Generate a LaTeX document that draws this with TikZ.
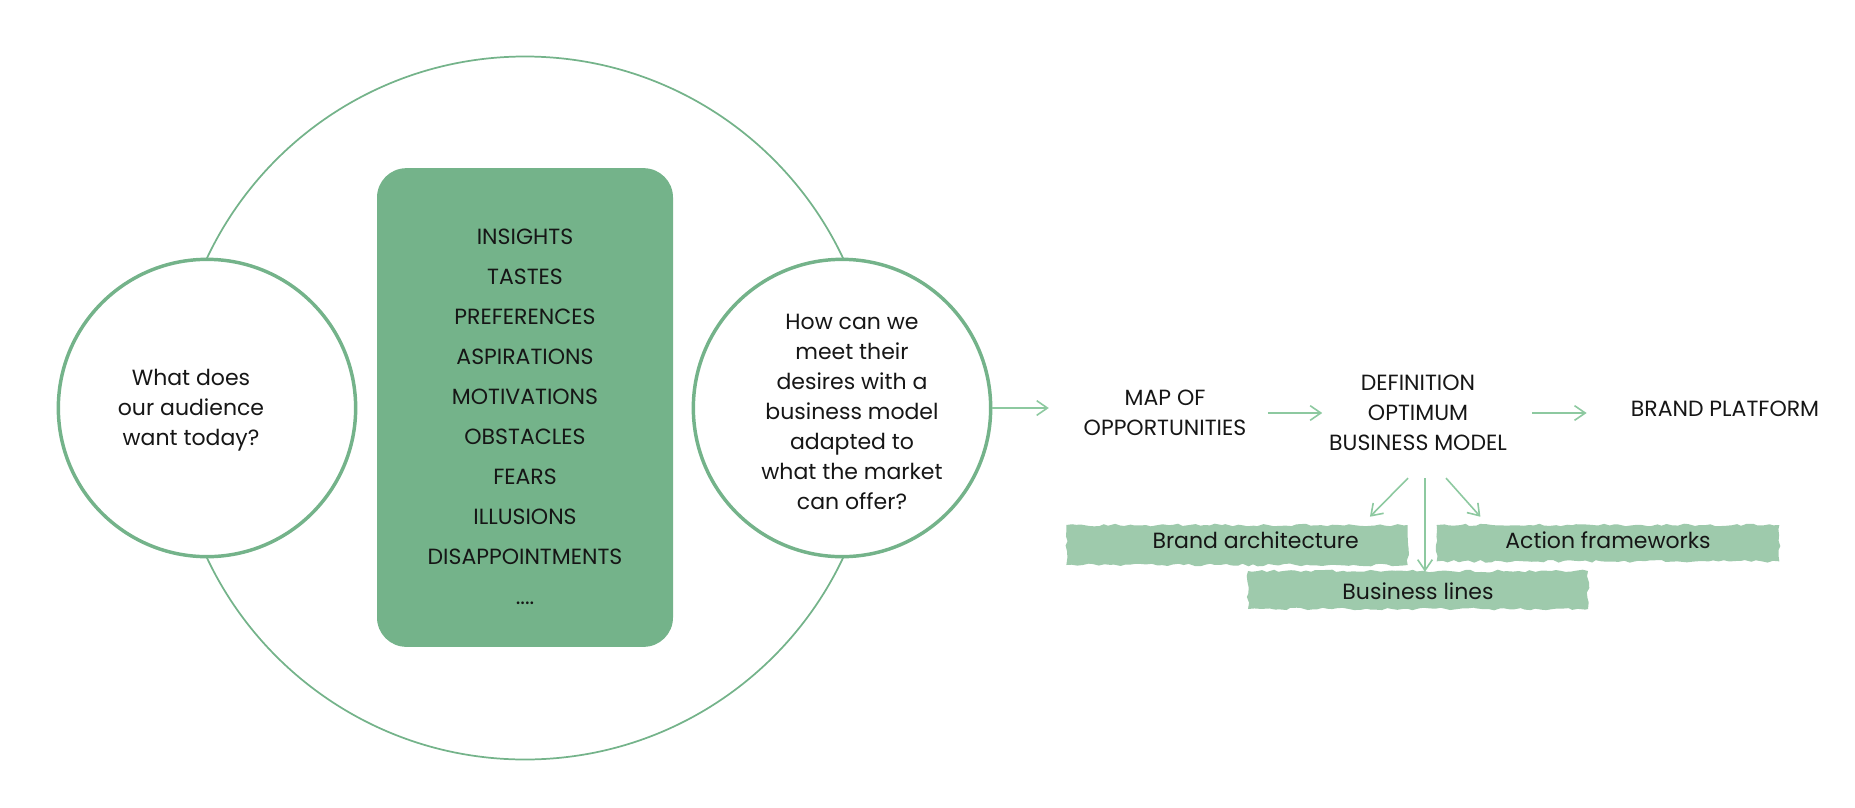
\documentclass[tikz,border=0pt]{standalone}
\usepackage{fontspec}
\setmainfont{Poppins}
\usepackage{xcolor}
\usetikzlibrary{arrows.meta,decorations.pathmorphing}
\definecolor{sage}{HTML}{74B38A}
\definecolor{sage-light}{HTML}{9ECAAC}
\definecolor{sage-arrow}{HTML}{8DC9A0}
\definecolor{ink}{HTML}{161616}
\newcommand{\textsize}{\fontsize{16.5pt}{22.5pt}\selectfont}
\newcommand{\listsize}{\fontsize{16.5pt}{30pt}\selectfont}
\tikzset{
    ring/.style = {draw=sage, line width=1.3pt},
    question-circle/.style = {draw=sage, fill=white, line width=2.6pt, circle, minimum size=223pt, inner sep=0pt},
    list-box/.style = {fill=sage, rectangle, rounded corners=22pt, minimum width=222pt, minimum height=359pt},
    step-text/.style = {inner sep=0pt, align=center, text=ink, font=\textsize},
    list-text/.style = {step-text, font=\listsize},
    flow-arrow/.style = {draw=sage-arrow, line width=1.2pt, -{Straight Barb[length=8pt,width=11pt]}},
    brush-bar/.style = {fill=sage-light, decorate, decoration={random steps, segment length=4pt, amplitude=1pt}, inner sep=0pt, anchor=base, text=ink, font=\textsize},
}

\begin{document}
\begin{tikzpicture}[x=0.75pt, y=-0.75pt]
\useasboundingbox (0,0) rectangle (1855,807);
\pgfmathsetseed{7}
\draw[ring] (525,408) circle[radius=351.5];
\node[question-circle] (audience) at (207,408) {};
\node[question-circle] (offer) at (842,408) {};
\node[list-box] (box) at (525,407.5) {};
\node[step-text] (audience-q) at ([shift={(-16,2)}]audience.center) {What does\\our audience\\want today?};
\node[step-text] (offer-q) at ([shift={(10,4)}]offer.center) {How can we\\meet their\\desires with a\\business model\\adapted to\\what the market\\can offer?};
\node[list-text] (list) at ([shift={(0,9)}]box.center) {INSIGHTS\\TASTES\\PREFERENCES\\ASPIRATIONS\\MOTIVATIONS\\OBSTACLES\\FEARS\\ILLUSIONS\\DISAPPOINTMENTS\\....};

% steps
\node[step-text] (map) at (1165,413) {MAP OF\\OPPORTUNITIES};
\node[step-text] (def) at (1418,413) {DEFINITION\\OPTIMUM\\BUSINESS MODEL};
\node[step-text] (platform) at (1725,409) {BRAND PLATFORM};

% outcomes
\node[brush-bar, minimum width=256pt, text height=17.25pt, text depth=12.75pt] (arch) at (1237,548) {\hspace*{28pt}Brand architecture};
\node[brush-bar, minimum width=257pt, text height=17.25pt, text depth=10pt] (action) at (1608,548) {Action frameworks};
\node[brush-bar, minimum width=255pt, text height=21pt, text depth=7.5pt] (lines) at (1418,599) {Business lines};

\draw[flow-arrow, shorten >=26pt] (offer.east) -- (offer.east -| map.west);
\draw[flow-arrow, shorten <=16pt, shorten >=5pt] (map.east) -- (map.east -| def.west);
\draw[flow-arrow, shorten <=19pt, shorten >=33pt] (def.east) -- (def.east -| platform.west);
\draw[flow-arrow] ([shift={(-10,27)}]def.south) -- ([shift={(-38,-8)}]arch.north east);
\draw[flow-arrow] ([shift={(7,27)}]def.south) -- ([shift={(7,1)}]lines.north);
\draw[flow-arrow] ([shift={(28,27)}]def.south) -- ([shift={(44,-8)}]action.north west);
\end{tikzpicture}
\end{document}
